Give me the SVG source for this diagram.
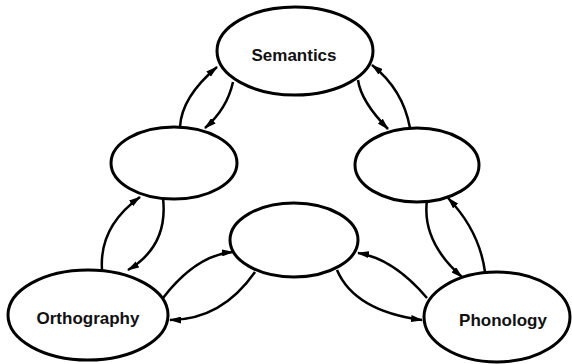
<svg xmlns="http://www.w3.org/2000/svg" width="572" height="364" viewBox="0 0 572 364">
<defs>
<style>
.node{fill:#fff;stroke:#000;stroke-width:3}
.lbl{font-family:"Liberation Sans",Arial,sans-serif;font-weight:bold;font-size:17px;fill:#111;text-anchor:middle}
.c{fill:none;stroke:#000;stroke-width:2.5;marker-end:url(#ah)}
</style>
<marker id="ah" markerUnits="userSpaceOnUse" markerWidth="12" markerHeight="7" refX="11" refY="3.5" orient="auto">
<path d="M0,0 L12,3.5 L0,7 z" fill="#000"/>
</marker>
</defs>
<rect width="572" height="364" fill="#fff"/>
<g id="connectors">
<path class="c" d="M180,127 Q181.5,97 217,67"/>
<path class="c" d="M233,82 Q227,109 205,128"/>
<path class="c" d="M358,80 Q361,101.5 388,129"/>
<path class="c" d="M410,128 Q403,89.5 372,65"/>
<path class="c" d="M102,270 Q99,226.5 140,197"/>
<path class="c" d="M163,198 Q168.5,246 128,270"/>
<path class="c" d="M163,298 Q196,255 233,252"/>
<path class="c" d="M255,272 Q221.5,320 170,320"/>
<path class="c" d="M427,298 Q393.5,258.5 358,253"/>
<path class="c" d="M337,270 Q354.5,311 422,320"/>
<path class="c" d="M427,200 Q421.5,241.5 462,277"/>
<path class="c" d="M485,272 Q479.5,231 448,198"/>
</g>
<g id="semantics">
<ellipse class="node" cx="295" cy="51" rx="78" ry="44"/>
<text class="lbl" x="294" y="61">Semantics</text>
</g>
<g id="hidden-left">
<ellipse class="node" cx="174" cy="163" rx="63" ry="36"/>
</g>
<g id="hidden-right">
<ellipse class="node" cx="417" cy="165" rx="62" ry="37"/>
</g>
<g id="hidden-bottom">
<ellipse class="node" cx="294" cy="240" rx="64" ry="37"/>
</g>
<g id="orthography">
<ellipse class="node" cx="88" cy="315" rx="80" ry="45"/>
<text class="lbl" x="88" y="324">Orthography</text>
</g>
<g id="phonology">
<ellipse class="node" cx="497" cy="317" rx="73" ry="45"/>
<text class="lbl" x="503" y="326">Phonology</text>
</g>
</svg>
